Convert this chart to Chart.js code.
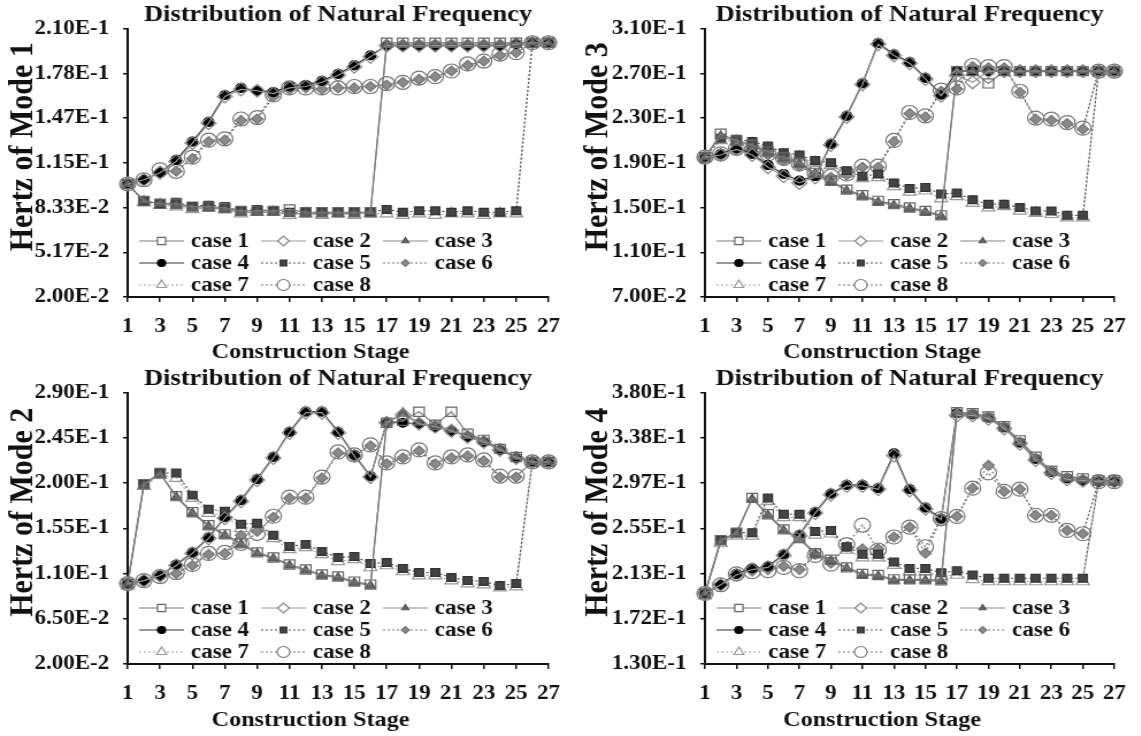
<!DOCTYPE html>
<html>
<head>
<meta charset="utf-8">
<script src="https://cdn.jsdelivr.net/npm/chart.js@4.4.1/dist/chart.umd.min.js"></script>
<style>
html, body { margin: 0; padding: 0; background: #fff; }
#page { position: relative; width: 1141px; height: 736px; overflow: hidden; }
.panel { position: absolute; transform-origin: 0 0; transform: scaleX(1.15); }
</style>
</head>
<body>
<div id="page">
  <div class="panel" style="left:0;top:0;width:500px;height:368px"><canvas id="mode1"></canvas></div>
  <div class="panel" style="left:575px;top:0;width:492px;height:368px"><canvas id="mode3"></canvas></div>
  <div class="panel" style="left:0;top:364px;width:500px;height:372px"><canvas id="mode2"></canvas></div>
  <div class="panel" style="left:575px;top:364px;width:492px;height:372px"><canvas id="mode4"></canvas></div>
</div>
<script>
// construction stages and axis ticks
const stages = [1,2,3,4,5,6,7,8,9,10,11,12,13,14,15,16,17,18,19,20,21,22,23,24,25,26,27];
const stageTicks = [1,3,5,7,9,11,13,15,17,19,21,23,25,27];
const caseLabels = ['case 1','case 2','case 3','case 4','case 5','case 6','case 7','case 8'];

const mode1Ticks = [0.02, 0.051667, 0.083333, 0.115, 0.146667, 0.178333, 0.21];
const mode3Ticks = [0.07, 0.11, 0.15, 0.19, 0.23, 0.27, 0.31];
const mode2Ticks = [0.02, 0.065, 0.11, 0.155, 0.2, 0.245, 0.29];
const mode4Ticks = [0.13, 0.171667, 0.213333, 0.255, 0.296667, 0.338333, 0.38];

// Mode 1
const mode1Case1 = [0.100,0.088,0.086,0.086,0.084,0.084,0.083,0.081,0.081,0.081,0.082,0.080,0.080,0.080,0.080,0.080,0.200,0.200,0.200,0.200,0.200,0.200,0.200,0.200,0.200,0.200,0.200];
const mode1Case2 = [0.100,0.103,0.108,0.116,0.129,0.143,0.162,0.167,0.166,0.164,0.168,0.169,0.172,0.177,0.183,0.190,0.198,0.198,0.198,0.198,0.198,0.198,0.198,0.198,0.199,0.200,0.200];
const mode1Case3 = [0.100,0.088,0.086,0.085,0.083,0.083,0.082,0.080,0.080,0.080,0.079,0.079,0.079,0.079,0.079,0.080,0.199,0.199,0.199,0.199,0.199,0.199,0.199,0.199,0.199,0.200,0.200];
const mode1Case4 = [0.100,0.103,0.108,0.117,0.130,0.144,0.163,0.168,0.166,0.165,0.169,0.170,0.173,0.178,0.184,0.191,0.198,0.198,0.198,0.198,0.198,0.198,0.198,0.198,0.199,0.200,0.200];
const mode1Case5 = [0.100,0.088,0.086,0.087,0.084,0.085,0.084,0.081,0.082,0.081,0.080,0.080,0.080,0.080,0.080,0.080,0.082,0.080,0.081,0.081,0.080,0.081,0.080,0.080,0.081,0.200,0.200];
const mode1Case6 = [0.100,0.103,0.109,0.109,0.118,0.130,0.131,0.145,0.146,0.162,0.167,0.168,0.167,0.168,0.168,0.169,0.170,0.172,0.174,0.176,0.180,0.184,0.187,0.191,0.193,0.200,0.200];
const mode1Case7 = [0.100,0.087,0.085,0.084,0.082,0.083,0.082,0.079,0.080,0.080,0.078,0.079,0.078,0.079,0.078,0.079,0.079,0.078,0.079,0.078,0.079,0.079,0.078,0.079,0.079,0.200,0.200];
const mode1Case8 = [0.100,0.103,0.110,0.109,0.119,0.131,0.132,0.146,0.147,0.163,0.168,0.168,0.168,0.168,0.169,0.169,0.171,0.172,0.175,0.176,0.180,0.185,0.187,0.192,0.193,0.200,0.200];

// Mode 3
const mode3Case1 = [0.195,0.216,0.210,0.206,0.200,0.195,0.190,0.181,0.174,0.166,0.161,0.156,0.153,0.150,0.147,0.143,0.272,0.272,0.261,0.272,0.272,0.272,0.272,0.272,0.272,0.272,0.272];
const mode3Case2 = [0.195,0.197,0.202,0.197,0.186,0.178,0.172,0.177,0.206,0.231,0.260,0.296,0.286,0.279,0.265,0.250,0.268,0.262,0.272,0.272,0.272,0.272,0.272,0.272,0.272,0.272,0.272];
const mode3Case3 = [0.195,0.214,0.209,0.205,0.199,0.194,0.189,0.180,0.173,0.165,0.160,0.155,0.152,0.149,0.146,0.142,0.272,0.272,0.272,0.272,0.272,0.272,0.272,0.272,0.272,0.272,0.272];
const mode3Case4 = [0.195,0.198,0.203,0.198,0.188,0.180,0.174,0.178,0.207,0.232,0.261,0.297,0.287,0.280,0.266,0.251,0.272,0.272,0.272,0.272,0.272,0.272,0.272,0.272,0.272,0.272,0.272];
const mode3Case5 = [0.195,0.212,0.211,0.209,0.205,0.199,0.197,0.192,0.190,0.183,0.178,0.180,0.172,0.167,0.168,0.162,0.163,0.157,0.153,0.153,0.150,0.147,0.147,0.143,0.143,0.272,0.272];
const mode3Case6 = [0.195,0.197,0.202,0.200,0.197,0.192,0.187,0.180,0.177,0.179,0.186,0.186,0.209,0.234,0.231,0.254,0.256,0.276,0.275,0.275,0.253,0.229,0.228,0.225,0.220,0.272,0.272];
const mode3Case7 = [0.195,0.210,0.209,0.207,0.203,0.197,0.195,0.190,0.188,0.180,0.176,0.177,0.169,0.164,0.165,0.158,0.160,0.154,0.150,0.151,0.147,0.145,0.144,0.141,0.141,0.272,0.272];
const mode3Case8 = [0.195,0.198,0.203,0.201,0.198,0.194,0.189,0.181,0.178,0.180,0.187,0.187,0.210,0.235,0.232,0.255,0.257,0.277,0.276,0.276,0.254,0.230,0.229,0.226,0.221,0.272,0.272];

// Mode 2
const mode2Case1 = [0.100,0.199,0.210,0.187,0.171,0.158,0.149,0.140,0.131,0.126,0.119,0.114,0.109,0.107,0.102,0.099,0.260,0.262,0.271,0.258,0.271,0.249,0.243,0.234,0.226,0.221,0.221];
const mode2Case2 = [0.100,0.103,0.108,0.118,0.130,0.145,0.165,0.182,0.203,0.225,0.250,0.270,0.270,0.250,0.227,0.206,0.260,0.268,0.259,0.256,0.252,0.246,0.241,0.233,0.225,0.221,0.221];
const mode2Case3 = [0.100,0.198,0.209,0.186,0.170,0.157,0.148,0.139,0.130,0.125,0.118,0.113,0.108,0.106,0.101,0.098,0.260,0.270,0.260,0.257,0.253,0.247,0.242,0.234,0.226,0.221,0.221];
const mode2Case4 = [0.100,0.103,0.108,0.119,0.131,0.146,0.166,0.183,0.204,0.226,0.251,0.271,0.271,0.251,0.228,0.207,0.260,0.260,0.259,0.256,0.252,0.246,0.241,0.233,0.225,0.221,0.221];
const mode2Case5 = [0.100,0.199,0.210,0.210,0.188,0.174,0.172,0.159,0.160,0.148,0.137,0.139,0.132,0.126,0.127,0.120,0.121,0.115,0.111,0.111,0.106,0.103,0.102,0.098,0.100,0.221,0.221];
const mode2Case6 = [0.100,0.103,0.107,0.110,0.118,0.129,0.130,0.148,0.152,0.166,0.185,0.185,0.205,0.230,0.227,0.237,0.219,0.225,0.232,0.219,0.225,0.227,0.222,0.206,0.206,0.221,0.221];
const mode2Case7 = [0.098,0.197,0.208,0.205,0.185,0.170,0.168,0.155,0.156,0.145,0.134,0.136,0.129,0.122,0.124,0.116,0.118,0.112,0.108,0.108,0.103,0.100,0.099,0.096,0.097,0.221,0.221];
const mode2Case8 = [0.100,0.103,0.107,0.111,0.119,0.130,0.131,0.140,0.150,0.167,0.186,0.186,0.206,0.231,0.228,0.238,0.220,0.226,0.233,0.220,0.226,0.228,0.223,0.207,0.207,0.221,0.221];

// Mode 4
const mode4Case1 = [0.195,0.244,0.251,0.283,0.268,0.254,0.246,0.232,0.226,0.219,0.213,0.212,0.208,0.208,0.208,0.207,0.362,0.361,0.358,0.349,0.336,0.321,0.308,0.303,0.301,0.299,0.299];
const mode4Case2 = [0.195,0.203,0.212,0.217,0.219,0.230,0.248,0.269,0.286,0.294,0.294,0.291,0.322,0.290,0.273,0.263,0.359,0.359,0.356,0.347,0.333,0.318,0.306,0.300,0.299,0.298,0.298];
const mode4Case3 = [0.195,0.243,0.250,0.282,0.267,0.253,0.245,0.231,0.225,0.218,0.212,0.211,0.207,0.207,0.207,0.206,0.361,0.360,0.357,0.348,0.334,0.319,0.307,0.301,0.300,0.298,0.298];
const mode4Case4 = [0.195,0.203,0.213,0.218,0.220,0.231,0.249,0.270,0.287,0.295,0.295,0.292,0.324,0.291,0.274,0.264,0.361,0.360,0.357,0.348,0.334,0.319,0.307,0.301,0.299,0.298,0.298];
const mode4Case5 = [0.195,0.244,0.251,0.251,0.283,0.268,0.268,0.252,0.253,0.238,0.231,0.231,0.224,0.218,0.218,0.214,0.216,0.212,0.209,0.209,0.209,0.209,0.209,0.209,0.209,0.298,0.298];
const mode4Case6 = [0.195,0.203,0.213,0.216,0.217,0.220,0.217,0.231,0.223,0.238,0.236,0.236,0.247,0.256,0.232,0.264,0.266,0.292,0.313,0.289,0.291,0.267,0.267,0.253,0.250,0.298,0.298];
const mode4Case7 = [0.193,0.241,0.248,0.248,0.280,0.265,0.265,0.249,0.250,0.235,0.228,0.228,0.221,0.215,0.215,0.211,0.212,0.208,0.206,0.206,0.206,0.206,0.206,0.206,0.206,0.298,0.298];
const mode4Case8 = [0.195,0.203,0.213,0.215,0.216,0.219,0.216,0.230,0.222,0.240,0.258,0.235,0.247,0.256,0.238,0.264,0.266,0.292,0.306,0.289,0.291,0.267,0.267,0.253,0.250,0.298,0.298];

const FONT = "'Liberation Serif', 'Times New Roman', serif";
const INK = '#111';

// look of each case
const caseStyles = [
  { pointStyle: 'rect',     radius: 6.5, bg: 'rgba(255,255,255,0)', border: '#666', line: '#7a7a7a', dash: [] },
  { pointStyle: 'rectRot',  radius: 6.5, bg: 'rgba(255,255,255,0)', border: '#888', line: '#999',    dash: [] },
  { pointStyle: 'triangle', radius: 5,   bg: '#666',                border: '#555', line: '#888',    dash: [] },
  { pointStyle: 'circle',   radius: 4.5, bg: '#000',                border: '#000', line: '#333',    dash: [] },
  { pointStyle: 'rect',     radius: 5.5, bg: '#444',                border: '#333', line: '#555',    dash: [2, 2] },
  { pointStyle: 'rectRot',  radius: 5,   bg: '#8a8a8a',             border: '#777', line: '#777',    dash: [2, 2] },
  { pointStyle: 'triangle', radius: 6.5, bg: 'rgba(255,255,255,0)', border: '#999', line: '#aaa',    dash: [2, 2] },
  { pointStyle: 'circle',   radius: 7,   bg: 'rgba(255,255,255,0)', border: '#777', line: '#777',    dash: [2, 2] }
];

// legend inside the plot, plus the two axis titles placed as in the figure
const panelDecor = {
  id: 'panelDecor',
  afterDraw(chart, args, opts) {
    const { ctx, chartArea } = chart;
    ctx.save();
    ctx.font = 'bold 20px ' + FONT;
    ctx.textBaseline = 'middle';
    ctx.textAlign = 'left';
    chart.data.datasets.forEach((ds, i) => {
      const st = caseStyles[i];
      const x0 = chartArea.left + 10 + (i % 3) * 106;
      const y = chartArea.bottom - 56 + Math.floor(i / 3) * 22;
      ctx.strokeStyle = st.line;
      ctx.lineWidth = 1.2;
      ctx.setLineDash(st.dash);
      ctx.beginPath();
      ctx.moveTo(x0, y);
      ctx.lineTo(x0 + 39, y);
      ctx.stroke();
      ctx.setLineDash([]);
      ctx.fillStyle = st.bg === 'rgba(255,255,255,0)' ? '#fff' : st.bg;
      ctx.strokeStyle = st.border;
      ctx.lineWidth = 1.2;
      Chart.helpers.drawPoint(ctx, { pointStyle: st.pointStyle, radius: Math.max(3.5, st.radius - 1.5), borderWidth: 1.2, rotation: 0 }, x0 + 19.5, y);
      ctx.fillStyle = INK;
      ctx.fillText(ds.label, x0 + 45, y + 1);
    });

    ctx.fillStyle = INK;
    ctx.textAlign = 'center';
    ctx.font = 'bold 21px ' + FONT;
    ctx.fillText('Construction Stage', (chartArea.left + chartArea.right) / 2 - 24, chart.height - 15);

    ctx.font = 'bold 30px ' + FONT;
    ctx.translate(19, (chartArea.top + chartArea.bottom) / 2 - 16);
    ctx.rotate(-Math.PI / 2);
    ctx.fillText(opts.yTitle, 0, 1);
    ctx.restore();
  }
};

function makeChart(id, series, ticks, yTitle, axisWidth, axisHeight) {
  const datasets = series.map((vals, i) => {
    const st = caseStyles[i];
    return {
      label: caseLabels[i],
      data: vals.map((v, k) => ({ x: stages[k], y: v })),
      borderColor: st.line,
      borderWidth: 1.2,
      borderDash: st.dash,
      pointStyle: st.pointStyle,
      pointRadius: st.radius,
      pointBackgroundColor: st.bg,
      pointBorderColor: st.border,
      pointBorderWidth: 1.2,
      fill: false,
      tension: 0,
      clip: false
    };
  });
  new Chart(document.getElementById(id), {
    type: 'line',
    data: { datasets },
    options: {
      responsive: true,
      maintainAspectRatio: false,
      animation: false,
      events: [],
      layout: { padding: { left: 0, right: 0, top: 0, bottom: 0 } },
      plugins: {
        legend: { display: false },
        tooltip: { enabled: false },
        panelDecor: { yTitle },
        title: {
          display: true,
          fullSize: false,
          text: 'Distribution of Natural Frequency',
          color: INK,
          font: { family: FONT, size: 23, weight: 'bold' },
          padding: { top: 1, bottom: 0 }
        }
      },
      scales: {
        x: {
          type: 'linear',
          min: 1,
          max: 27,
          afterBuildTicks: s => { s.ticks = stageTicks.map(v => ({ value: v })); },
          afterFit: s => { s.height = axisHeight; },
          ticks: { color: INK, font: { family: FONT, size: 20, weight: 'bold' }, padding: 13, maxRotation: 0, callback: v => String(v) },
          grid: { drawOnChartArea: false, drawTicks: true, tickLength: 5, color: INK, lineWidth: 1.5 },
          border: { display: true, color: INK, width: 2 }
        },
        y: {
          min: ticks[0],
          max: ticks[ticks.length - 1],
          afterBuildTicks: s => { s.ticks = ticks.map(v => ({ value: v })); },
          afterFit: s => { s.width = axisWidth; },
          ticks: { color: INK, font: { family: FONT, size: 20, weight: 'bold' }, padding: 12, callback: v => Number(v).toExponential(2).toUpperCase() },
          grid: { drawOnChartArea: false, drawTicks: true, tickLength: 4, color: INK, lineWidth: 1.5 },
          border: { display: true, color: INK, width: 2 }
        }
      }
    },
    plugins: [panelDecor]
  });
}

makeChart('mode1', [mode1Case1, mode1Case2, mode1Case3, mode1Case4, mode1Case5, mode1Case6, mode1Case7, mode1Case8], mode1Ticks, 'Hertz of Mode 1', 111, 71);
makeChart('mode3', [mode3Case1, mode3Case2, mode3Case3, mode3Case4, mode3Case5, mode3Case6, mode3Case7, mode3Case8], mode3Ticks, 'Hertz of Mode 3', 113, 71);
makeChart('mode2', [mode2Case1, mode2Case2, mode2Case3, mode2Case4, mode2Case5, mode2Case6, mode2Case7, mode2Case8], mode2Ticks, 'Hertz of Mode 2', 111, 72);
makeChart('mode4', [mode4Case1, mode4Case2, mode4Case3, mode4Case4, mode4Case5, mode4Case6, mode4Case7, mode4Case8], mode4Ticks, 'Hertz of Mode 4', 113, 72);
</script>
</body>
</html>
